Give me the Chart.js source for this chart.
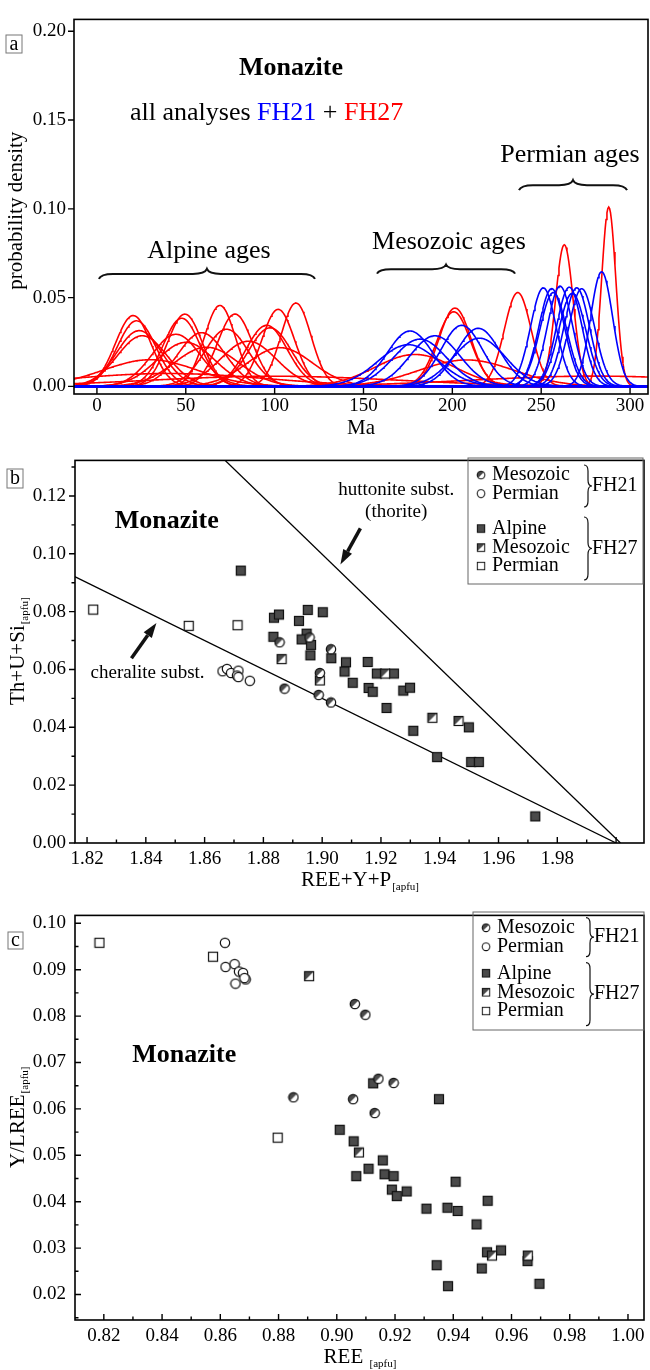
<!DOCTYPE html>
<html>
<head>
<meta charset="utf-8">
<script src="https://cdn.jsdelivr.net/npm/chart.js@4.4.1/dist/chart.umd.min.js"></script>
<style>
  body { margin: 0; background: #fff; width: 650px; height: 1370px; position: relative; overflow: hidden; }
  canvas { position: absolute; left: 0; }
</style>
</head>
<body>
<canvas id="chartA" width="650" height="440" style="top:0px"></canvas>
<canvas id="chartB" width="650" height="460" style="top:440px"></canvas>
<canvas id="chartC" width="650" height="475" style="top:895px"></canvas>
<script>
var FONT = '"Liberation Serif", "Times New Roman", serif';

// ---------- panel a : single ages (Ma) with 1 sigma, read from the density peaks
var fh21Ages   = [176.2, 175.2, 181.8, 190.2, 205.3, 214.6, 215.2, 251.2, 255.9, 260.6, 265.8, 270.0, 272.8, 256.8, 267.5, 284.0];
var fh21Sigmas = [12.8, 17.0, 15.0, 14.0, 11.6, 12.2, 14.7, 7.19, 7.25, 7.07, 7.14, 7.19, 7.25, 7.55, 7.61, 6.18];
var fh27Ages   = [20.4, 22.3, 23.8, 25.5, 30.0, 44.5, 47.7, 49.5, 50.0, 58.9, 61.7, 69.2, 73.0, 77.7, 85.2, 95.5, 97.4, 102.0, 103.0, 112.0, 40.0, 100.0,
                  179.0, 200.8, 201.5, 208.0, 236.8, 263.0, 288.0, 280.0];
var fh27Sigmas = [10.0, 10.8, 12.7, 14.0, 26.6, 13.6, 10.4, 9.8, 16.1, 13.2, 18.1, 8.75, 12.4, 9.8, 15.7, 11.6, 12.1, 9.2, 18.3, 8.5, 55, 70,
                  22.2, 9.5, 9.05, 26.8, 7.55, 5.0, 3.95, 69];
var ageTicks = [0, 50, 100, 150, 200, 250, 300];
var densityTicks = [0, 0.05, 0.10, 0.15, 0.20];

// ---------- panel b : Th+U+Si vs REE+Y+P [apfu]
var bMesozoicFH21 = [[1.8872, 0.0534], [1.8855, 0.0694], [1.8957, 0.0711], [1.9030, 0.0670], [1.8992, 0.0588], [1.8988, 0.0512], [1.9030, 0.0486]];
var bPermianFH21 = [[1.8661, 0.0594], [1.8676, 0.0602], [1.8690, 0.0588], [1.8715, 0.0596], [1.8710, 0.0579], [1.8715, 0.0574], [1.8754, 0.0561]];
var bAlpineFH27 = [[1.8723, 0.0942], [1.8836, 0.0779], [1.8853, 0.0790], [1.8834, 0.0713], [1.8921, 0.0768], [1.8951, 0.0806], [1.9002, 0.0798],
                   [1.8947, 0.0724], [1.8930, 0.0704], [1.8962, 0.0685], [1.8960, 0.0649], [1.9031, 0.0639], [1.9081, 0.0625], [1.9076, 0.0593],
                   [1.9104, 0.0554], [1.9155, 0.0626], [1.9186, 0.0586], [1.9244, 0.0586], [1.9158, 0.0536], [1.9172, 0.0523], [1.9276, 0.0527],
                   [1.9299, 0.0537], [1.9219, 0.0467], [1.9310, 0.0388], [1.9499, 0.0400], [1.9391, 0.0297], [1.9507, 0.0280], [1.9533, 0.0280],
                   [1.9725, 0.0092]];
var bMesozoicFH27 = [[1.8862, 0.0636], [1.8992, 0.0562], [1.9214, 0.0586], [1.9375, 0.0433], [1.9464, 0.0422]];
var bPermianFH27 = [[1.8221, 0.0807], [1.8546, 0.0751], [1.8712, 0.0753]];
var cheraliteLine = [[1.80, 0.10], [2.00, 0.00]];
var huttoniteLine = [[1.85, 0.149], [2.0015, 0.00]];
var bTicksX = [1.82, 1.84, 1.86, 1.88, 1.90, 1.92, 1.94, 1.96, 1.98];
var bTicksY = [0, 0.02, 0.04, 0.06, 0.08, 0.10, 0.12];

// ---------- panel c : Y/LREE vs REE [apfu]
var cMesozoicFH21 = [[0.8851, 0.0625], [0.9062, 0.0826], [0.9098, 0.0803], [0.9056, 0.0621], [0.9130, 0.0591], [0.9143, 0.0665], [0.9195, 0.0656]];
var cPermianFH21 = [[0.8616, 0.0958], [0.8618, 0.0906], [0.8649, 0.0912], [0.8664, 0.0896], [0.8678, 0.0893], [0.8652, 0.0870], [0.8687, 0.0879], [0.8683, 0.0882]];
var cAlpineFH27 = [[0.9125, 0.0655], [0.9351, 0.0621], [0.9010, 0.0555], [0.9058, 0.0530], [0.9158, 0.0489], [0.9109, 0.0471], [0.9067, 0.0455],
                   [0.9164, 0.0459], [0.9195, 0.0455], [0.9408, 0.0443], [0.9189, 0.0426], [0.9206, 0.0412], [0.9240, 0.0422], [0.9518, 0.0402],
                   [0.9308, 0.0385], [0.9380, 0.0387], [0.9415, 0.0380], [0.9480, 0.0351], [0.9516, 0.0291], [0.9564, 0.0295], [0.9655, 0.0272],
                   [0.9343, 0.0263], [0.9498, 0.0256], [0.9382, 0.0218], [0.9696, 0.0223]];
var cMesozoicFH27 = [[0.8905, 0.0886], [0.9076, 0.0506], [0.9533, 0.0284], [0.9656, 0.0284]];
var cPermianFH27 = [[0.8185, 0.0958], [0.8575, 0.0928], [0.8797, 0.0538]];
var cTicksX = [0.82, 0.84, 0.86, 0.88, 0.90, 0.92, 0.94, 0.96, 0.98, 1.00];
var cTicksY = [0.02, 0.03, 0.04, 0.05, 0.06, 0.07, 0.08, 0.09, 0.10];

// ---------- helpers
function toXY(pairs) {
  return pairs.map(function (p) { return { x: p[0], y: p[1] }; });
}

// normal probability density of one age, sampled along the age axis
function densityCurve(age, sigma) {
  var pts = [];
  for (var t = -13; t <= 310; t += 0.5) {
    var z = (t - age) / sigma;
    pts.push({ x: t, y: Math.exp(-0.5 * z * z) / (sigma * Math.sqrt(2 * Math.PI)) });
  }
  return pts;
}

// point symbols drawn once on small canvases
function markerCanvas(kind) {
  var c = document.createElement('canvas');
  c.width = 12; c.height = 12;
  var g = c.getContext('2d');
  var dark = '#4a4a4a';
  g.lineWidth = 1.2;
  g.strokeStyle = '#111';
  if (kind === 'circle' || kind === 'halfCircle') {
    g.beginPath(); g.arc(6, 6, 4.7, 0, Math.PI * 2);
    g.fillStyle = '#fff'; g.fill();
    if (kind === 'halfCircle') {
      g.save(); g.clip();
      g.beginPath(); g.moveTo(0, 0); g.lineTo(12, 0); g.lineTo(0, 12); g.closePath();
      g.fillStyle = dark; g.fill();
      g.restore();
    }
    g.beginPath(); g.arc(6, 6, 4.7, 0, Math.PI * 2); g.stroke();
  } else {
    g.fillStyle = kind === 'square' ? dark : '#fff';
    g.fillRect(1.5, 1.5, 9, 9);
    if (kind === 'halfSquare') {
      g.beginPath(); g.moveTo(1.5, 1.5); g.lineTo(10.5, 1.5); g.lineTo(1.5, 10.5); g.closePath();
      g.fillStyle = dark; g.fill();
    }
    g.strokeRect(1.5, 1.5, 9, 9);
  }
  return c;
}
var mkHalfCircle = markerCanvas('halfCircle');
var mkCircle = markerCanvas('circle');
var mkSquare = markerCanvas('square');
var mkHalfSquare = markerCanvas('halfSquare');
var mkOpenSquare = markerCanvas('openSquare');

function pointSet(pairs, marker) {
  return { type: 'scatter', data: toXY(pairs), pointStyle: marker, pointRadius: 5, showLine: false };
}

function lineSet(pairs) {
  return { type: 'line', data: toXY(pairs), borderColor: '#000', borderWidth: 1.3, pointRadius: 0, fill: false };
}

function axisOptions(o) {
  var tickFont = { family: FONT, size: 19 };
  return {
    responsive: false,
    animation: false,
    events: [],
    layout: { padding: { top: o.padTop, right: o.padRight, left: 0, bottom: 0 } },
    plugins: { legend: { display: false }, tooltip: { enabled: false } },
    scales: {
      x: {
        type: 'linear', min: o.xMin, max: o.xMax,
        grid: { display: false, drawTicks: false }, border: { display: false },
        afterFit: function (s) { s.height = o.xHeight; },
        afterBuildTicks: function (s) { s.ticks = o.xTicks.map(function (v) { return { value: v }; }); },
        ticks: { padding: o.xPad, color: '#000', font: tickFont, maxRotation: 0, autoSkip: false,
                 callback: function (v) { return v.toFixed(o.xDec); } }
      },
      y: {
        type: 'linear', min: o.yMin, max: o.yMax,
        grid: { display: false, drawTicks: false }, border: { display: false },
        afterFit: function (s) { s.width = o.yWidth; },
        afterBuildTicks: function (s) { s.ticks = o.yTicks.map(function (v) { return { value: v }; }); },
        ticks: { padding: o.yPad, color: '#000', font: tickFont, autoSkip: false,
                 callback: function (v) { return v.toFixed(2); } }
      }
    }
  };
}

function frame(chart) {
  var a = chart.chartArea, c = chart.ctx;
  c.save();
  c.strokeStyle = '#000'; c.lineWidth = 1.6;
  c.strokeRect(a.left, a.top, a.right - a.left, a.bottom - a.top);
  c.restore();
}

// tick marks on bottom / left axis; dir = 1 inward, -1 outward
function tickMarks(chart, axis, values, len, dir) {
  var a = chart.chartArea, c = chart.ctx, s = chart.scales[axis];
  c.save();
  c.strokeStyle = '#000'; c.lineWidth = 1.4;
  c.beginPath();
  values.forEach(function (v) {
    var p = s.getPixelForValue(v);
    if (axis === 'x') {
      if (p < a.left - 0.5 || p > a.right + 0.5) return;
      c.moveTo(p, a.bottom); c.lineTo(p, a.bottom - dir * len);
    } else {
      if (p < a.top - 0.5 || p > a.bottom + 0.5) return;
      c.moveTo(a.left, p); c.lineTo(a.left + dir * len, p);
    }
  });
  c.stroke();
  c.restore();
}

function range(from, to, step) {
  var out = [];
  for (var i = 0; from + i * step <= to + 1e-9; i++) out.push(+(from + i * step).toFixed(4));
  return out;
}

function text(ctx, str, x, y, size, opts) {
  opts = opts || {};
  ctx.save();
  ctx.font = (opts.bold ? 'bold ' : '') + size + 'px ' + FONT;
  ctx.fillStyle = opts.color || '#000';
  ctx.textAlign = opts.align || 'center';
  ctx.textBaseline = 'middle';
  ctx.fillText(str, x, y);
  ctx.restore();
}

// axis title with a small "[apfu]" subscript, optionally rotated
function subTitle(ctx, main, sub, cx, cy, rotate) {
  ctx.save();
  ctx.translate(cx, cy);
  if (rotate) ctx.rotate(-Math.PI / 2);
  ctx.fillStyle = '#000';
  ctx.textBaseline = 'middle';
  ctx.font = '21px ' + FONT;
  var w1 = ctx.measureText(main).width;
  ctx.font = '11px ' + FONT;
  var w2 = ctx.measureText(sub).width;
  var x0 = -(w1 + w2) / 2;
  ctx.font = '21px ' + FONT;
  ctx.textAlign = 'left';
  ctx.fillText(main, x0, 0);
  ctx.font = '11px ' + FONT;
  ctx.fillText(sub, x0 + w1 + 1, 7);
  ctx.restore();
}

function boxedLetter(ctx, ch, x, y, w, h) {
  ctx.save();
  ctx.strokeStyle = '#777'; ctx.lineWidth = 1;
  ctx.strokeRect(x, y, w, h);
  ctx.restore();
  text(ctx, ch, x + w / 2, y + h / 2 + 0.5, 20);
}

// horizontal curly brace, tip pointing up
function hBrace(ctx, x1, x2, y, h) {
  var xm = (x1 + x2) / 2, r = Math.min(14, (x2 - x1) / 6);
  ctx.save();
  ctx.strokeStyle = '#111'; ctx.lineWidth = 2;
  ctx.beginPath();
  ctx.moveTo(x1, y);
  ctx.quadraticCurveTo(x1 + 2, y - h / 2, x1 + r, y - h / 2);
  ctx.lineTo(xm - r, y - h / 2);
  ctx.quadraticCurveTo(xm - 2, y - h / 2, xm, y - h);
  ctx.quadraticCurveTo(xm + 2, y - h / 2, xm + r, y - h / 2);
  ctx.lineTo(x2 - r, y - h / 2);
  ctx.quadraticCurveTo(x2 - 2, y - h / 2, x2, y);
  ctx.stroke();
  ctx.restore();
}

// vertical curly brace, tip pointing right
function vBrace(ctx, x, y1, y2, w) {
  var ym = (y1 + y2) / 2, r = 6;
  ctx.save();
  ctx.strokeStyle = '#111'; ctx.lineWidth = 1.2;
  ctx.beginPath();
  ctx.moveTo(x, y1);
  ctx.quadraticCurveTo(x + w / 2, y1, x + w / 2, y1 + r);
  ctx.lineTo(x + w / 2, ym - r);
  ctx.quadraticCurveTo(x + w / 2, ym, x + w, ym);
  ctx.quadraticCurveTo(x + w / 2, ym, x + w / 2, ym + r);
  ctx.lineTo(x + w / 2, y2 - r);
  ctx.quadraticCurveTo(x + w / 2, y2, x, y2);
  ctx.stroke();
  ctx.restore();
}

function arrow(ctx, x1, y1, x2, y2) {
  var ang = Math.atan2(y2 - y1, x2 - x1), L = 15, W = 5;
  var bx = x2 - L * Math.cos(ang), by = y2 - L * Math.sin(ang);
  ctx.save();
  ctx.strokeStyle = '#111'; ctx.fillStyle = '#111'; ctx.lineWidth = 3.5;
  ctx.beginPath(); ctx.moveTo(x1, y1); ctx.lineTo(bx, by); ctx.stroke();
  ctx.beginPath();
  ctx.moveTo(x2, y2);
  ctx.lineTo(bx + W * Math.sin(ang), by - W * Math.cos(ang));
  ctx.lineTo(bx - W * Math.sin(ang), by + W * Math.cos(ang));
  ctx.closePath(); ctx.fill();
  ctx.restore();
}

// legend used in panels b and c
function sampleLegend(ctx, box, rows, braceX, fh21, fh27) {
  ctx.save();
  ctx.strokeStyle = '#666'; ctx.lineWidth = 1;
  ctx.strokeRect(box[0], box[1], box[2] - box[0], box[3] - box[1]);
  ctx.restore();
  var items = [[mkHalfCircle, 'Mesozoic'], [mkCircle, 'Permian'], [mkSquare, 'Alpine'], [mkHalfSquare, 'Mesozoic'], [mkOpenSquare, 'Permian']];
  items.forEach(function (it, i) {
    ctx.drawImage(it[0], box[0] + 8, rows[i] - 5, 10, 10);
    text(ctx, it[1], box[0] + 24, rows[i], 20, { align: 'left' });
  });
  vBrace(ctx, braceX, fh21[0], fh21[1], 8);
  vBrace(ctx, braceX, fh27[0], fh27[1], 8);
  text(ctx, 'FH21', braceX + 8, (fh21[0] + fh21[1]) / 2, 20, { align: 'left' });
  text(ctx, 'FH27', braceX + 8, (fh27[0] + fh27[1]) / 2, 20, { align: 'left' });
}

// ---------- panel a
var aSets = [];
fh21Ages.forEach(function (age, i) {
  aSets.push({ data: densityCurve(age, fh21Sigmas[i]), borderColor: '#0000ff', borderWidth: 1.6, pointRadius: 0, fill: false });
});
fh27Ages.forEach(function (age, i) {
  aSets.push({ data: densityCurve(age, fh27Sigmas[i]), borderColor: '#ff0000', borderWidth: 1.6, pointRadius: 0, fill: false });
});

var optA = axisOptions({ padTop: 6, padRight: 2, xMin: -12.9, xMax: 310.1, yMin: -0.0043, yMax: 0.2067,
  xHeight: 46, yWidth: 74, xTicks: ageTicks, yTicks: densityTicks, xDec: 0, xPad: 1, yPad: 8 });
optA.normalized = true;

new Chart(document.getElementById('chartA'), {
  type: 'line',
  data: { datasets: aSets },
  options: optA,
  plugins: [{
    id: 'decoA',
    afterDraw: function (chart) {
      var ctx = chart.ctx, X = chart.scales.x, Y = chart.scales.y;
      frame(chart);
      tickMarks(chart, 'x', ageTicks, 6, 1);
      tickMarks(chart, 'y', densityTicks, 6, -1);
      text(ctx, 'Monazite', X.getPixelForValue(109.2), Y.getPixelForValue(0.179), 26, { bold: true });
      // "all analyses FH21 + FH27" in three colours
      ctx.save();
      ctx.font = '26px ' + FONT;
      var x0 = X.getPixelForValue(18.6), y0 = Y.getPixelForValue(0.154);
      var parts = [['all analyses ', '#000'], ['FH21', '#0000ff'], [' + ', '#000'], ['FH27', '#ff0000']];
      parts.forEach(function (p) {
        text(ctx, p[0], x0, y0, 26, { align: 'left', color: p[1] });
        x0 += ctx.measureText(p[0]).width;
      });
      ctx.restore();
      text(ctx, 'Permian ages', X.getPixelForValue(266.2), Y.getPixelForValue(0.130), 26);
      text(ctx, 'Mesozoic ages', X.getPixelForValue(198.1), Y.getPixelForValue(0.0815), 26);
      text(ctx, 'Alpine ages', X.getPixelForValue(63), Y.getPixelForValue(0.076), 26);
      hBrace(ctx, X.getPixelForValue(237.5), X.getPixelForValue(298.3), Y.getPixelForValue(0.1105), 10);
      hBrace(ctx, X.getPixelForValue(157.6), X.getPixelForValue(235.3), Y.getPixelForValue(0.0635), 9);
      hBrace(ctx, X.getPixelForValue(1.1), X.getPixelForValue(122.7), Y.getPixelForValue(0.0605), 10);
      // axis titles and panel letter
      ctx.save();
      ctx.translate(16, (chart.chartArea.top + chart.chartArea.bottom) / 2 + 4);
      ctx.rotate(-Math.PI / 2);
      text(ctx, 'probability density', 0, 0, 21);
      ctx.restore();
      text(ctx, 'Ma', (chart.chartArea.left + chart.chartArea.right) / 2, 428, 21);
      boxedLetter(ctx, 'a', 6, 35, 16, 18);
    }
  }]
});

// ---------- panel b
var optB = axisOptions({ padTop: 14, padRight: 3, xMin: 1.8159, xMax: 2.0095, yMin: 0, yMax: 0.1323,
  xHeight: 57, yWidth: 75, xTicks: bTicksX, yTicks: bTicksY, xDec: 2, xPad: 5, yPad: 9 });

new Chart(document.getElementById('chartB'), {
  type: 'scatter',
  data: {
    datasets: [
      pointSet(bMesozoicFH21, mkHalfCircle),
      pointSet(bPermianFH21, mkCircle),
      pointSet(bMesozoicFH27, mkHalfSquare),
      pointSet(bPermianFH27, mkOpenSquare),
      pointSet(bAlpineFH27, mkSquare),
      lineSet(cheraliteLine),
      lineSet(huttoniteLine)
    ]
  },
  options: optB,
  plugins: [{
    id: 'decoB',
    afterDraw: function (chart) {
      var ctx = chart.ctx, X = chart.scales.x, Y = chart.scales.y, a = chart.chartArea;
      frame(chart);
      tickMarks(chart, 'x', range(1.82, 2.00, 0.02), 6, 1);
      tickMarks(chart, 'x', range(1.83, 2.00, 0.02), 3.5, 1);
      tickMarks(chart, 'y', bTicksY, 6, -1);
      tickMarks(chart, 'y', range(0.01, 0.13, 0.02), 3.5, -1);
      text(ctx, 'Monazite', X.getPixelForValue(1.8471), Y.getPixelForValue(0.1112), 26, { bold: true });
      text(ctx, 'huttonite subst.', X.getPixelForValue(1.9252), Y.getPixelForValue(0.1221), 19);
      text(ctx, '(thorite)', X.getPixelForValue(1.9252), Y.getPixelForValue(0.1146), 19);
      text(ctx, 'cheralite subst.', X.getPixelForValue(1.8406), Y.getPixelForValue(0.0588), 19);
      arrow(ctx, X.getPixelForValue(1.9130), Y.getPixelForValue(0.1088), X.getPixelForValue(1.9062), Y.getPixelForValue(0.0963));
      arrow(ctx, X.getPixelForValue(1.8351), Y.getPixelForValue(0.0639), X.getPixelForValue(1.8436), Y.getPixelForValue(0.0761));
      sampleLegend(ctx, [468, 18, 643, 144], [35, 53.5, 88.5, 107.5, 126], 584, [25, 67], [77, 140]);
      subTitle(ctx, 'Th+U+Si', '[apfu]', 18, (a.top + a.bottom) / 2, true);
      subTitle(ctx, 'REE+Y+P', '[apfu]', (a.left + a.right) / 2, 440, false);
      boxedLetter(ctx, 'b', 7, 29, 16, 19);
    }
  }]
});

// ---------- panel c
var optC = axisOptions({ padTop: 10, padRight: 2, xMin: 0.8101, xMax: 1.0055, yMin: 0.0145, yMax: 0.1017,
  xHeight: 50, yWidth: 75, xTicks: cTicksX, yTicks: cTicksY, xDec: 2, xPad: 5, yPad: 9 });

new Chart(document.getElementById('chartC'), {
  type: 'scatter',
  data: {
    datasets: [
      pointSet(cMesozoicFH21, mkHalfCircle),
      pointSet(cPermianFH21, mkCircle),
      pointSet(cMesozoicFH27, mkHalfSquare),
      pointSet(cPermianFH27, mkOpenSquare),
      pointSet(cAlpineFH27, mkSquare)
    ]
  },
  options: optC,
  plugins: [{
    id: 'decoC',
    afterDraw: function (chart) {
      var ctx = chart.ctx, X = chart.scales.x, Y = chart.scales.y, a = chart.chartArea;
      frame(chart);
      tickMarks(chart, 'x', cTicksX, 6, 1);
      tickMarks(chart, 'x', range(0.83, 1.00, 0.02), 3.5, 1);
      tickMarks(chart, 'y', cTicksY, 6, 1);
      tickMarks(chart, 'y', range(0.015, 0.10, 0.01), 3.5, 1);
      text(ctx, 'Monazite', X.getPixelForValue(0.8476), Y.getPixelForValue(0.0716), 26, { bold: true });
      sampleLegend(ctx, [473, 17, 644, 135], [32.7, 51.7, 78.3, 97.3, 116], 586, [22.7, 61.7], [67.7, 130.7]);
      subTitle(ctx, 'Y/LREE', '[apfu]', 18, (a.top + a.bottom) / 2, true);
      subTitle(ctx, 'REE ', '[apfu]', (a.left + a.right) / 2, 462, false);
      boxedLetter(ctx, 'c', 8, 37, 15, 17);
    }
  }]
});
</script>
</body>
</html>
